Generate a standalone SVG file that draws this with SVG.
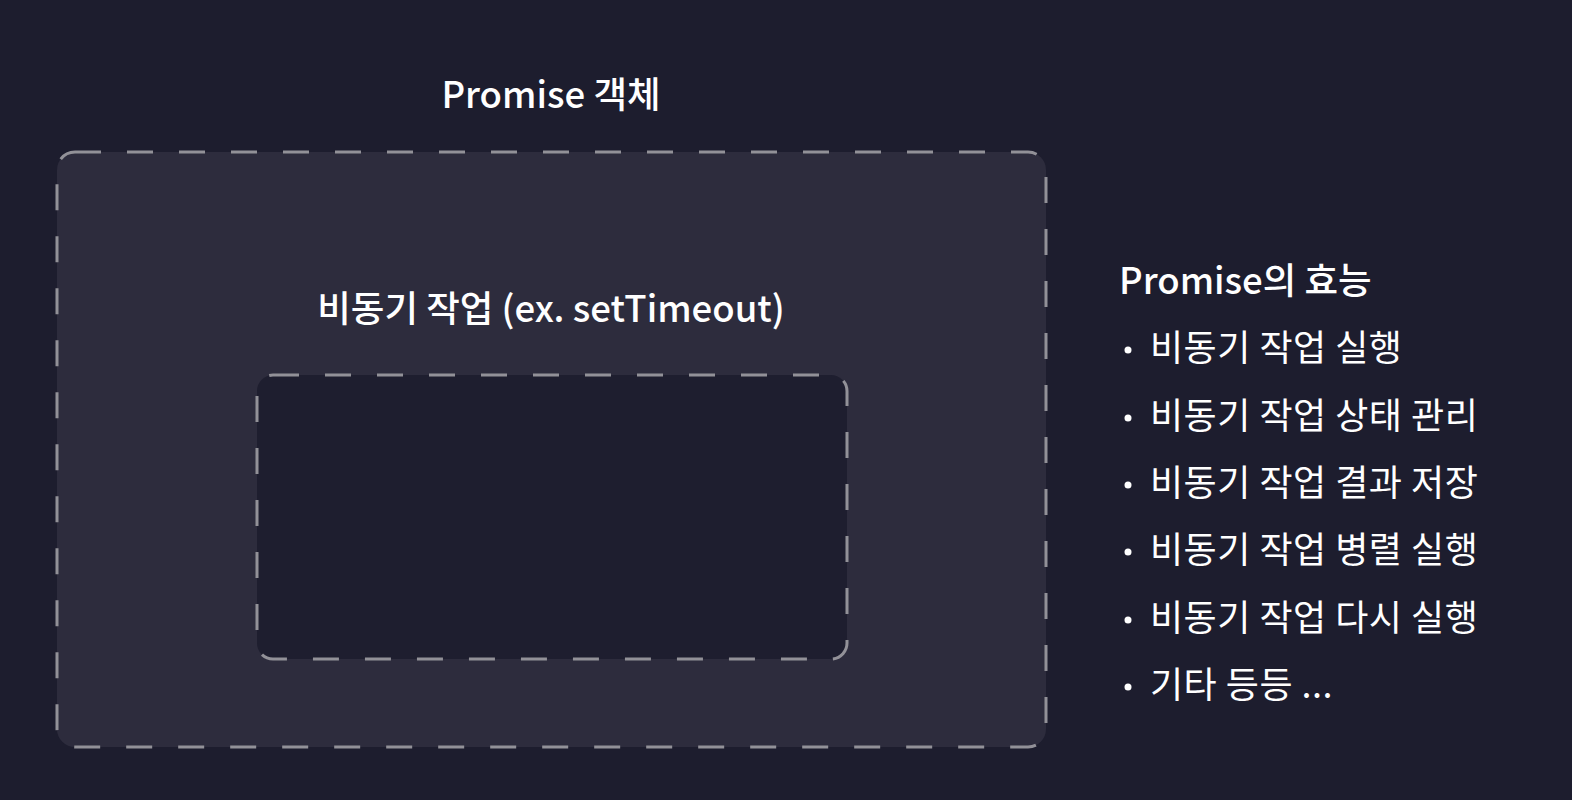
<svg xmlns="http://www.w3.org/2000/svg" width="1572" height="800" viewBox="0 0 1572 800">
<style>
.t{font-family:"Noto Sans CJK KR","Noto Sans",sans-serif;fill:#ffffff;font-size:36.5px;font-weight:500}
.li{font-family:"Noto Sans CJK KR","Noto Sans",sans-serif;fill:#ffffff;font-size:36px;font-weight:400;letter-spacing:0.5px}
.box{stroke:#929198;stroke-width:3;stroke-dasharray:26 26}
</style>
<rect x="0" y="0" width="1572" height="800" fill="#1d1d2e"/>
<g id="promise">
<rect class="box" x="57" y="152" width="989" height="595" rx="18" fill="#2d2c3d"/>
<text class="t" x="551" y="108" text-anchor="middle">Promise 객체</text>
</g>
<g id="async">
<text class="t" x="551" y="322" text-anchor="middle">비동기 작업 (ex. setTimeout)</text>
<rect class="box" x="257" y="375" width="590" height="284" rx="16" fill="#1e1e2f"/>
</g>
<g id="connectors"></g>
<g id="effects">
<text class="t" x="1119" y="294">Promise의 효능</text>
<g fill="#ffffff">
<circle cx="1128" cy="350" r="3.5"/>
<circle cx="1128" cy="418" r="3.5"/>
<circle cx="1128" cy="485" r="3.5"/>
<circle cx="1128" cy="552" r="3.5"/>
<circle cx="1128" cy="620" r="3.5"/>
<circle cx="1128" cy="687" r="3.5"/>
</g>
<g class="li">
<text x="1150" y="361">비동기 작업 실행</text>
<text x="1150" y="429">비동기 작업 상태 관리</text>
<text x="1150" y="496">비동기 작업 결과 저장</text>
<text x="1150" y="563">비동기 작업 병렬 실행</text>
<text x="1150" y="631">비동기 작업 다시 실행</text>
<text x="1150" y="698">기타 등등 ...</text>
</g>
</g>
</svg>
